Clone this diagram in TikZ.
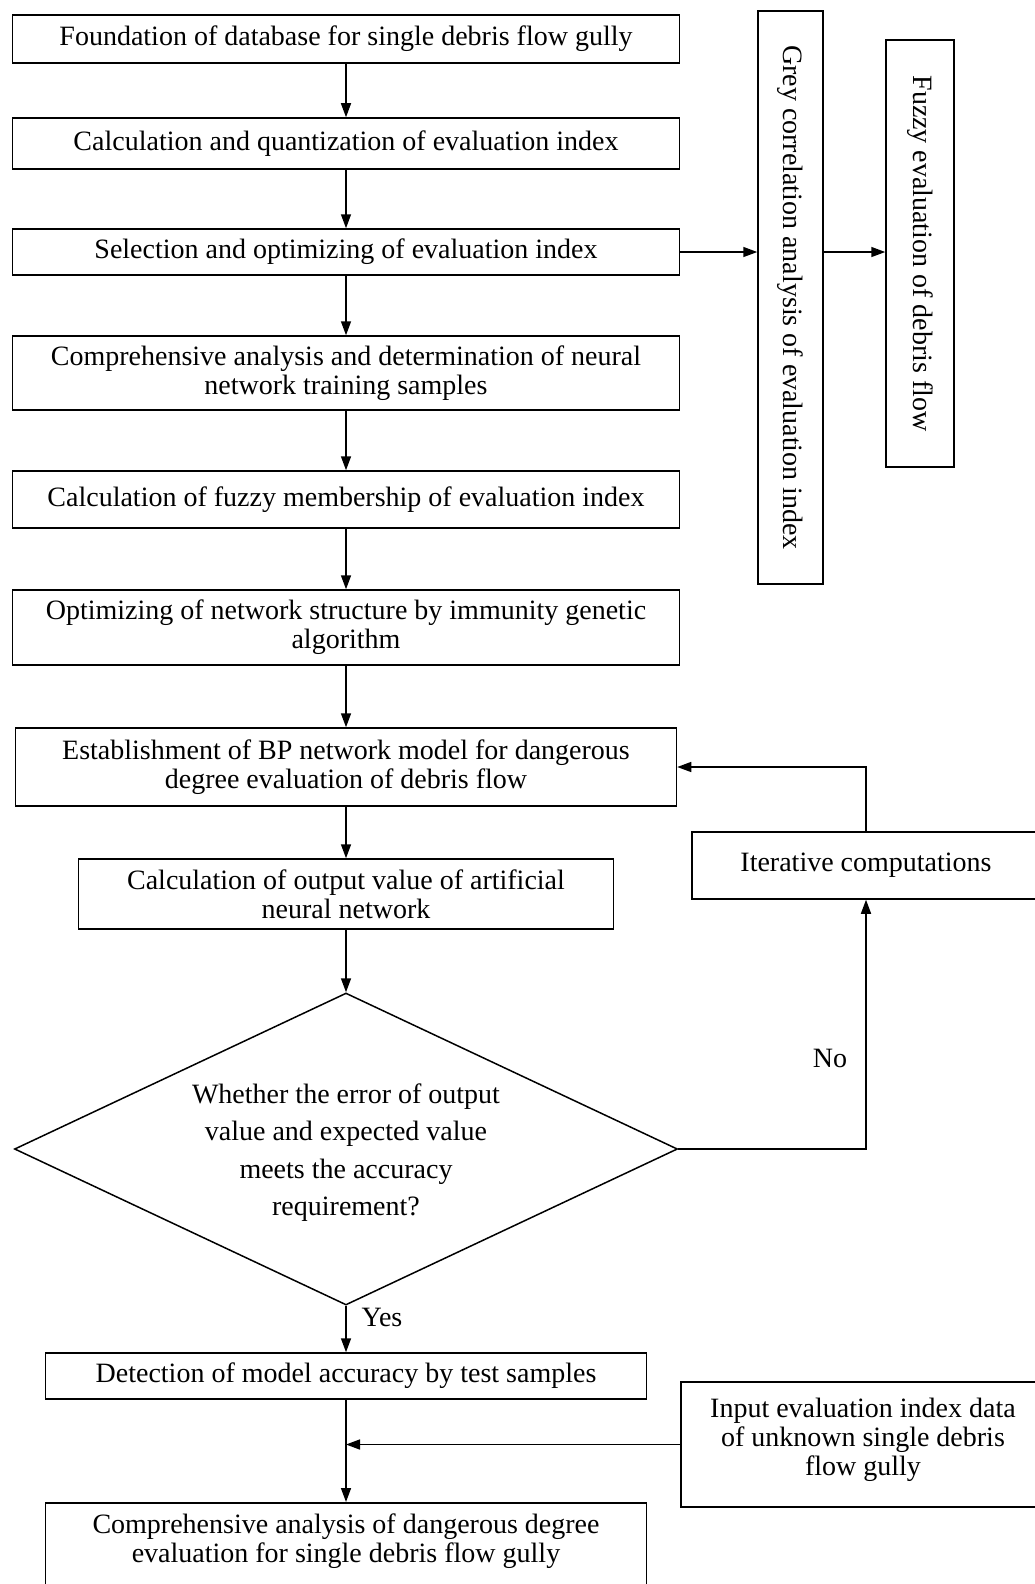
\documentclass[tikz,border=0pt]{standalone}
\usepackage{fontspec}
\setmainfont{Liberation Serif}
\usetikzlibrary{calc, arrows.meta, positioning, shapes.geometric}

\begin{document}
\begin{tikzpicture}[x=1pt, y=-1pt,
    every node/.style={font=\fontsize{28}{29}\selectfont},
    flowbox/.style={draw, line width=1.5pt, rectangle, align=center, inner sep=0pt},
    decbox/.style={draw, line width=1.5pt, diamond, aspect=2.1, align=center, inner sep=0pt,
        minimum width=663pt, minimum height=312pt, font=\fontsize{28}{37.5}\selectfont},
    flowline/.style={line width=1.5pt, -{Triangle[length=14pt,width=10pt]}}]
\useasboundingbox (0,0) rectangle (1035,1584);

% main column
\node[flowbox, minimum width=667pt, minimum height=48pt] (nFound) at (346, 39)
    {Foundation of database for single debris flow gully};
\node[flowbox, minimum width=667pt, minimum height=51pt] (nQuant) at (346, 143.5)
    {Calculation and quantization of evaluation index};
\node[flowbox, minimum width=667pt, minimum height=46pt] (nSelect) at (346, 252)
    {Selection and optimizing of evaluation index};
\node[flowbox, minimum width=667pt, minimum height=74pt] (nSample) at (346, 373)
    {Comprehensive analysis and determination of neural\\network training samples};
\node[flowbox, minimum width=667pt, minimum height=57pt] (nMember) at (346, 499.5)
    {Calculation of fuzzy membership of evaluation index};
\node[flowbox, minimum width=667pt, minimum height=75pt] (nStruct) at (346, 627.5)
    {Optimizing of network structure by immunity genetic\\algorithm};
\node[flowbox, minimum width=661pt, minimum height=78pt] (nModel) at (346, 767)
    {Establishment of BP network model for dangerous\\degree evaluation of debris flow};
\node[flowbox, minimum width=535pt, minimum height=70pt] (nOutput) at (346, 894)
    {Calculation of output value of artificial\\neural network};
\node[decbox] (nDecide) at (346, 1149)
    {\raisebox{-10pt}[0pt][0pt]{\parbox{450pt}{\centering
     Whether the error of output\\value and expected value\\meets the accuracy\\requirement?}}};
\node[flowbox, minimum width=601pt, minimum height=46pt] (nDetect) at (346, 1376)
    {Detection of model accuracy by test samples};
% box runs off the bottom edge
\node[flowbox, minimum width=601pt, minimum height=120pt, anchor=north] (nResult) at (346, 1502)
    {\raisebox{15.5pt}[0pt][0pt]{\parbox{590pt}{\centering
     Comprehensive analysis of dangerous degree\\evaluation for single debris flow gully}}};

% side boxes
\node[flowbox, minimum width=65pt, minimum height=573pt] (nGrey) at (790.5, 297.5)
    {\rotatebox{-90}{Grey correlation analysis of evaluation index}};
\node[flowbox, minimum width=68pt, minimum height=427pt] (nFuzzy) at (920, 253.5)
    {\rotatebox{-90}{Fuzzy evaluation of debris flow}};
\node[flowbox, minimum width=348pt, minimum height=67pt] (nIter) at (866, 865.5)
    {Iterative computations};
\node[flowbox, minimum width=364pt, minimum height=125pt] (nInput) at (863, 1444.5)
    {\raisebox{-1.5pt}[0pt][0pt]{\parbox{350pt}{\centering
     Input evaluation index data\\of unknown single debris\\flow gully}}};

% labels
\node (lYes) at (382, 1317) {Yes};
\node (lNo) at (830, 1058) {No};

% connectors
\foreach \a/\b in
{   nFound/nQuant,
    nQuant/nSelect,
    nSelect/nSample,
    nSample/nMember,
    nMember/nStruct,
    nStruct/nModel,
    nModel/nOutput,
    nOutput/nDecide,
    nDecide/nDetect,
    nDetect/nResult}
{
    \draw[flowline] (\a.south) -- (\b.north);
};

\draw[flowline] (nSelect.east) -- (nSelect.east -| nGrey.west);
\draw[flowline] (nSelect.east -| nGrey.east) -- (nSelect.east -| nFuzzy.west);

\draw[flowline] (nDecide.east) -| (nIter.south);
\draw[flowline] (nIter.north) |- (nModel.east);
\draw[flowline] (nInput.west) -- (nInput.west -| nDetect.south);

\end{tikzpicture}
\end{document}
